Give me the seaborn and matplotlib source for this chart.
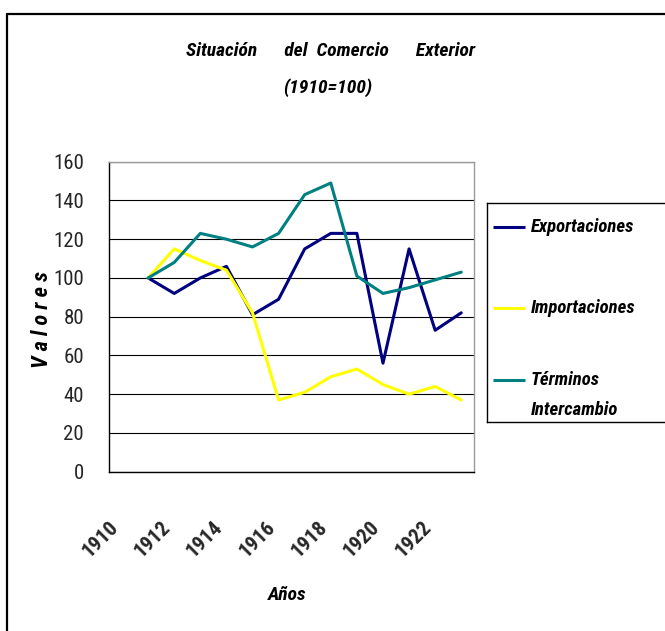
import numpy as np
import pandas as pd
import matplotlib
matplotlib.use("Agg")
import matplotlib.pyplot as plt
from matplotlib.lines import Line2D
from matplotlib.ticker import MultipleLocator, FixedLocator
from matplotlib.transforms import ScaledTranslation
import seaborn as sns

# Índices del comercio exterior (1910 = 100)
anios = list(range(1910, 1924))
exportaciones = [np.nan, 100, 92, 100, 106, 81, 89, 115, 123, 123, 56, 115, 73, 82]
importaciones = [np.nan, 100, 115, 109, 104, 82, 37, 41, 49, 53, 45, 40, 44, 37]
terminos = [np.nan, 100, 108, 123, 120, 116, 123, 143, 149, 101, 92, 95, 99, 103]

series = ["Exportaciones", "Importaciones", "Términos Intercambio"]
colores = ["#000080", "#FFFF00", "#008080"]
etiquetas_leyenda = ["Exportaciones", "Importaciones", "Términos"]
anios_etiqueta = [1910, 1912, 1914, 1916, 1918, 1920, 1922]

df = pd.DataFrame({
    "Año": anios * 3,
    "Valor": exportaciones + importaciones + terminos,
    "Serie": [s for s in series for _ in anios],
})

sns.set_style("white")
plt.rcParams["font.family"] = ["Roboto Condensed", "Liberation Sans", "DejaVu Sans"]

W, H = 665, 631
fig = plt.figure(figsize=(W / 100, H / 100), dpi=100)
fig.patch.set_facecolor("white")


def fx(px):
    return px / W


def fy(py):
    return 1 - py / H


ax = fig.add_axes([fx(109), fy(471.7), fx(474.3) - fx(109), fy(161.7) - fy(471.7)])

sns.lineplot(data=df, x="Año", y="Valor", hue="Serie", hue_order=series,
             palette=colores, linewidth=2.2, legend=False, ax=ax)

ax.set_xlim(1909.5, 1923.5)
ax.set_ylim(0, 160)
ax.yaxis.set_major_locator(MultipleLocator(20))
ax.yaxis.grid(True, color="black", linewidth=0.8)
ax.set_axisbelow(True)

# Marcas de categoría en los límites y etiquetas cada dos años
ax.xaxis.set_major_locator(FixedLocator(anios_etiqueta))
ax.set_xticklabels([str(a) for a in anios_etiqueta], rotation=45, ha="right",
                   va="top", fontsize=15, fontweight="bold")
desplazamiento = ScaledTranslation(4 / 100, 0, fig.dpi_scale_trans)
for etiqueta in ax.get_xticklabels():
    etiqueta.set_transform(etiqueta.get_transform() + desplazamiento)
ax.xaxis.set_minor_locator(FixedLocator(np.arange(1909.5, 1924.0, 1.0)))
ax.tick_params(axis="x", which="major", length=0, pad=33)
ax.tick_params(axis="x", which="minor", length=7, width=1, color="black", direction="out")
ax.tick_params(axis="y", length=5, width=1, color="black", direction="out",
               pad=13, labelsize=15)

for lado in ["left", "bottom"]:
    ax.spines[lado].set_color("black")
    ax.spines[lado].set_linewidth(1.0)
for lado in ["top", "right"]:
    ax.spines[lado].set_color("#9a9a9a")
    ax.spines[lado].set_linewidth(1.0)

ax.set_xlabel("")
ax.set_ylabel("")

negrita = dict(fontweight="bold", fontstyle="italic", color="black")
fig.text(fx(287), fy(595), "Años", ha="center", va="center", fontsize=14, **negrita)
fig.text(fx(42), fy(320), "V a l o r e s", ha="center", va="center", rotation=90,
         fontsize=16, **negrita)
fig.text(fx(331), fy(51), "Situación      del  Comercio      Exterior",
         ha="center", va="center", fontsize=14, **negrita)
fig.text(fx(328), fy(88), "(1910=100)", ha="center", va="center", fontsize=14, **negrita)

# Leyenda
ley = fig.add_axes([fx(486.7), fy(421.7), fx(668) - fx(486.7), fy(202.7) - fy(421.7)])
ley.set_xlim(486.7, 668)
ley.set_ylim(421.7, 202.7)
ley.set_xticks([])
ley.set_yticks([])
for s in ley.spines.values():
    s.set_color("black")
    s.set_linewidth(1.0)
for color, texto, y in zip(colores, etiquetas_leyenda, [227, 308, 380]):
    ley.plot([493, 525], [y, y], color=color, linewidth=2.2, solid_capstyle="butt")
    ley.text(531, y, texto, ha="left", va="center", fontsize=13.5, **negrita)
ley.text(531, 410, "Intercambio", ha="left", va="center", fontsize=13.5, **negrita)

# Marco exterior
fig.add_artist(Line2D([fx(6.5), fx(6.5)], [0, fy(13.5)], color="black", linewidth=1.6))
fig.add_artist(Line2D([fx(6.5), 1], [fy(13.5), fy(13.5)], color="black", linewidth=1.6))

fig.savefig("out.png", dpi=100)
